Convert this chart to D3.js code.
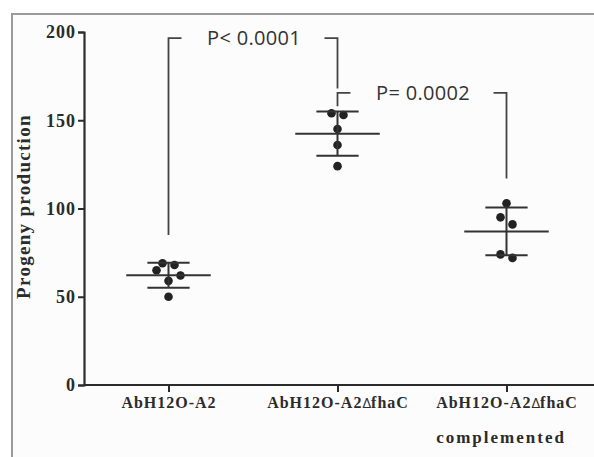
<!DOCTYPE html>
<html>
<head>
<meta charset="utf-8">
<script src="https://cdn.jsdelivr.net/npm/d3@7"></script>
<style>
  html, body { margin: 0; padding: 0; background: #fff; }
  svg { display: block; }
</style>
</head>
<body>
<div id="chart"></div>
<script>
// groups on the x axis (second line of a label after "|")
let groups = ["AbH12O-A2", "AbH12O-A2ΔfhaC", "AbH12O-A2ΔfhaC|complemented"];

// progeny counts per replicate
let wildType = [69, 68, 65, 62, 59, 50];
let mutant = [154, 153, 145, 136, 124];
let complemented = [103, 95, 91, 74, 72];

let yTicks = [0, 50, 100, 150, 200];
let yTitle = "Progeny production";

// significance brackets: groups compared, p label, bracket top and arm ends (data units)
let pairs = [0, 1];
let pairs2 = [1, 2];
let pLabels = ["P< 0.0001", "P= 0.0002"];
let bracketTops = [196.5, 165.5];
let leftArmEnds = [85, 158];
let rightArmEnds = [168, 117];

let allSeries = [wildType, mutant, complemented];

let width = 594,
    height = 457;

let margin = {left: 84, top: 32, bottom: 72, right: 3};

let svg = d3.select("#chart").append("svg")
    .attr("width", width)
    .attr("height", height);

// the grey frame of the scanned figure
svg.append("rect")
    .attr("x", 12).attr("y", 14)
    .attr("width", width).attr("height", height)
    .attr("fill", "#fcfcfc")
    .attr("stroke", "#9a9a9a")
    .attr("stroke-width", 2);

let x = d3.scalePoint()
    .domain(groups)
    .range([margin.left, width - margin.right])
    .padding(0.5);

let y = d3.scaleLinear()
    .domain([0, 200])
    .range([height - margin.bottom, margin.top]);

let serif = "'Liberation Serif', 'Times New Roman', serif";
let sans = "'Open Sans', 'Noto Sans', sans-serif";
let ink = "#2b2b2b";

// y axis
let yAxis = svg.append("g")
    .attr("transform", `translate(${margin.left},0)`)
    .call(d3.axisLeft(y).tickValues(yTicks).tickSizeOuter(0).tickSize(6).tickPadding(2));

yAxis.select(".domain").attr("stroke", ink).attr("stroke-width", 2.2);
yAxis.selectAll(".tick line").attr("stroke", ink).attr("stroke-width", 2);
yAxis.selectAll(".tick text")
    .attr("fill", ink)
    .style("font-family", serif)
    .style("font-weight", "bold")
    .style("font-size", "18px")
    .style("letter-spacing", "1px");

// x axis
let xAxis = svg.append("g")
    .attr("transform", `translate(0,${y(0)})`)
    .call(d3.axisBottom(x).tickSizeOuter(0).tickSize(7).tickFormat(""));

xAxis.select(".domain").attr("stroke", ink).attr("stroke-width", 2.2)
    .attr("d", `M${margin.left},0H${width}`);
xAxis.selectAll(".tick line").attr("stroke", ink).attr("stroke-width", 2);

// category labels, Δ in a small sans face
let labels = xAxis.selectAll(".tick").append("text")
    .attr("fill", ink)
    .attr("text-anchor", "middle")
    .style("font-family", serif)
    .style("font-weight", "bold")
    .style("font-size", "16px")
    .style("letter-spacing", "1px");

labels.each(function(d) {
    let lines = d.split("|");
    let t = d3.select(this);
    lines.forEach((line, i) => {
        let row = t.append("tspan")
            .attr("x", i ? -6 : 0)
            .attr("y", 23 + i * 35);
        if (i) row.style("font-size", "17px").style("letter-spacing", "2px");
        let parts = line.split("Δ");
        parts.forEach((p, j) => {
            if (j > 0) {
                row.append("tspan")
                    .style("font-family", sans)
                    .style("font-size", "15px")
                    .style("font-weight", "normal")
                    .style("letter-spacing", "0px")
                    .text("Δ");
            }
            row.append("tspan").text(p);
        });
    });
});

// y axis title
svg.append("text")
    .attr("transform", `translate(30,${(y(0) + y(200)) / 2 - 2}) rotate(-90)`)
    .attr("text-anchor", "middle")
    .attr("fill", ink)
    .style("font-family", serif)
    .style("font-weight", "bold")
    .style("font-size", "19px")
    .style("letter-spacing", "1.3px")
    .text(yTitle);

// spread points that sit close together side by side
let dotR = 4.3;
let spread = (vals) => {
    let sorted = vals.slice().sort((a, b) => b - a);
    let clusters = [];
    sorted.forEach(v => {
        let last = clusters[clusters.length - 1];
        if (last && y(v) - y(last[last.length - 1]) < 8) last.push(v);
        else clusters.push([v]);
    });
    let out = [];
    clusters.forEach(c => {
        let n = c.length;
        c.forEach((v, i) => {
            let dx = 0;
            if (!(n % 2 == 1 && i == n - 1)) {
                let k = Math.floor(i / 2) + 1;
                dx = (i % 2 == 0 ? -1 : 1) * k * 6;
            }
            out.push({v: v, dx: dx});
        });
    });
    return out;
};

let marks = svg.append("g");

allSeries.forEach((vals, gi) => {
    let cx = x(groups[gi]);
    let m = d3.mean(vals);
    let sd = d3.deviation(vals);
    let g = marks.append("g");

    // dots first, bars on top
    g.selectAll("circle")
        .data(spread(vals))
        .enter()
        .append("circle")
        .attr("cx", d => cx + d.dx)
        .attr("cy", d => y(d.v))
        .attr("r", dotR)
        .attr("fill", "#222");

    let half = x.step() * 0.25;
    let halfSd = x.step() * 0.125;

    g.append("line")
        .attr("x1", cx).attr("x2", cx)
        .attr("y1", y(m + sd)).attr("y2", y(m - sd));
    g.append("line")
        .attr("x1", cx - half).attr("x2", cx + half)
        .attr("y1", y(m)).attr("y2", y(m));
    g.append("line")
        .attr("x1", cx - halfSd).attr("x2", cx + halfSd)
        .attr("y1", y(m + sd)).attr("y2", y(m + sd));
    g.append("line")
        .attr("x1", cx - halfSd).attr("x2", cx + halfSd)
        .attr("y1", y(m - sd)).attr("y2", y(m - sd));

    g.selectAll("line")
        .attr("stroke", "#333")
        .attr("stroke-width", 2);
});

// significance brackets
let brackets = svg.append("g");
[pairs, pairs2].forEach((pr, i) => {
    let xa = x(groups[pr[0]]),
        xb = x(groups[pr[1]]),
        yt = y(bracketTops[i]);
    let stub = 13;

    brackets.append("path")
        .attr("d", `M${xa},${y(leftArmEnds[i])}V${yt}H${xa + stub}`);
    brackets.append("path")
        .attr("d", `M${xb - stub},${yt}H${xb}V${y(rightArmEnds[i])}`);

    brackets.append("text")
        .attr("x", (xa + xb) / 2 + 1)
        .attr("y", yt + 7)
        .attr("text-anchor", "middle")
        .attr("fill", "#333")
        .style("font-family", sans)
        .style("font-size", "20px")
        .style("letter-spacing", "0.3px")
        .text(pLabels[i]);
});

brackets.selectAll("path")
    .attr("fill", "none")
    .attr("stroke", "#444")
    .attr("stroke-width", 1.8);
</script>
</body>
</html>
